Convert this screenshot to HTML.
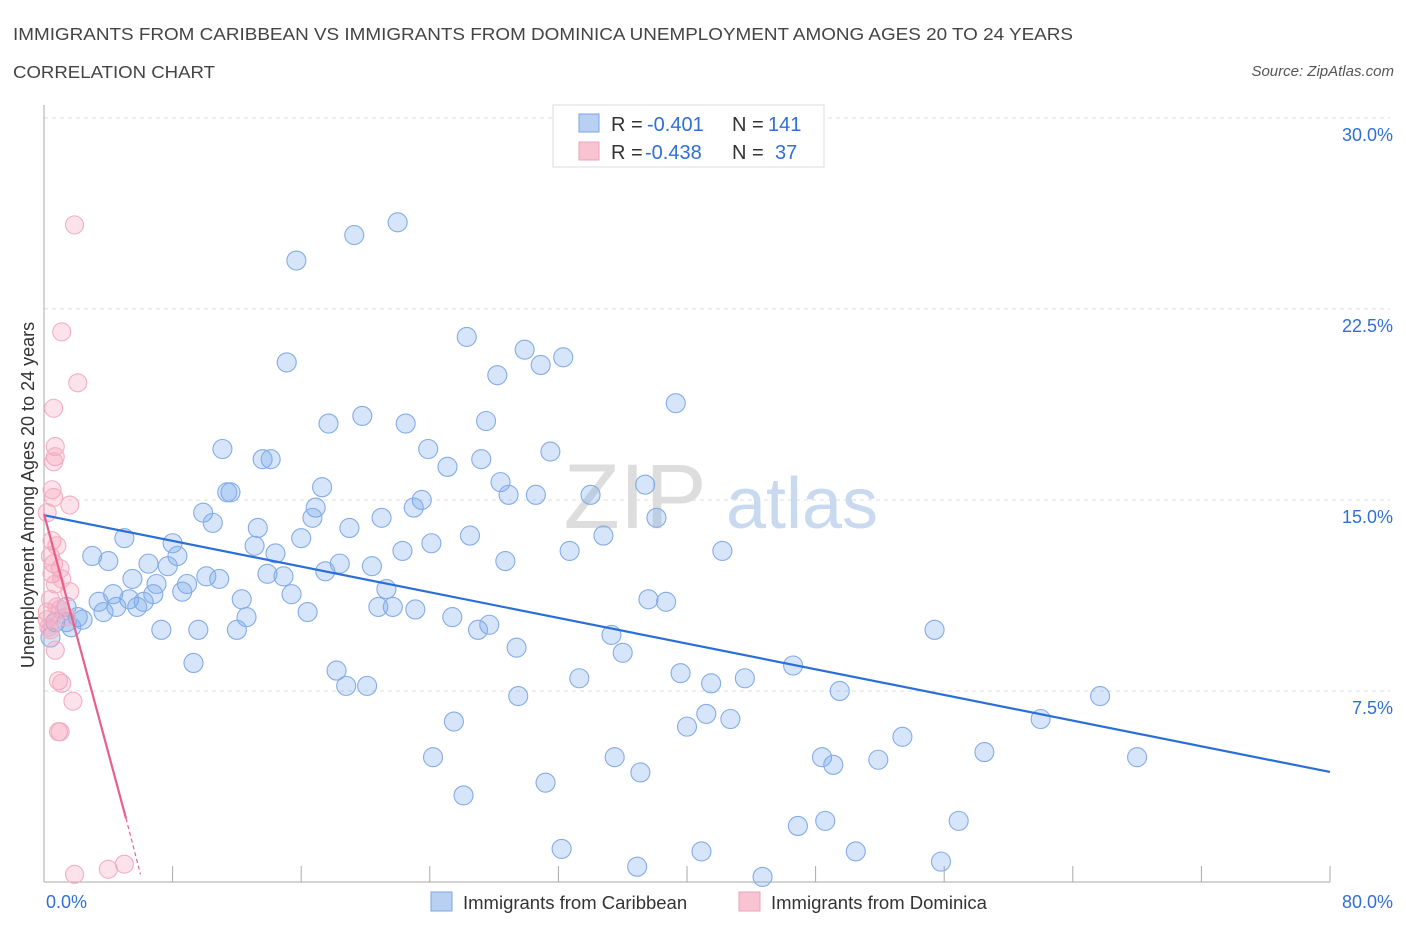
<!DOCTYPE html>
<html><head><meta charset="utf-8"><style>
body{margin:0;background:#fff;font-family:"Liberation Sans",sans-serif;}
svg text{font-family:"Liberation Sans",sans-serif;}
</style></head><body>
<svg width="1406" height="930" xmlns="http://www.w3.org/2000/svg">
<text x="13" y="40" font-size="17.5" fill="#444" textLength="1060" lengthAdjust="spacingAndGlyphs">IMMIGRANTS FROM CARIBBEAN VS IMMIGRANTS FROM DOMINICA UNEMPLOYMENT AMONG AGES 20 TO 24 YEARS</text>
<text x="13" y="78" font-size="17.5" fill="#444" textLength="202" lengthAdjust="spacingAndGlyphs">CORRELATION CHART</text>
<text x="1394" y="76" font-size="15" fill="#555" font-style="italic" text-anchor="end">Source: ZipAtlas.com</text>
<g id="grid"></g>
<g><text x="635" y="528" font-size="92" fill="#ddd" font-family="Liberation Serif" text-anchor="middle">ZIP</text><text x="802" y="528" font-size="72" fill="#c9daf0" text-anchor="middle">atlas</text></g>
<g id="axes"></g>
<g id="pts"></g>
<g id="lines"></g>
<g>
<rect x="553" y="105" width="271" height="62" fill="#fff" stroke="#ddd"/>
<rect x="579" y="114" width="20" height="18" fill="#b8d0f2" stroke="#7aa4e2"/>
<rect x="579" y="142" width="20" height="18" fill="#f8c4d2" stroke="#eea0b8"/>
<g font-size="20">
<text x="611" y="131" fill="#333">R =</text><text x="647" y="131" fill="#2f6fd6">-0.401</text><text x="732" y="131" fill="#333">N =</text><text x="768" y="131" fill="#2f6fd6">141</text></g>
<g font-size="20">
<text x="611" y="159" fill="#333">R =</text><text x="645" y="159" fill="#2f6fd6">-0.438</text><text x="732" y="159" fill="#333">N =</text><text x="775" y="159" fill="#2f6fd6">37</text></g>
</g>
<g>
<rect x="431" y="892" width="21" height="19" fill="#b8d0f2" stroke="#7aa4e2"/>
<text x="463" y="909" font-size="18.5" fill="#333">Immigrants from Caribbean</text>
<rect x="739" y="892" width="21" height="19" fill="#f8c4d2" stroke="#eea0b8"/>
<text x="771" y="909" font-size="18.5" fill="#333">Immigrants from Dominica</text>
</g>
<text x="34" y="495" font-size="18" fill="#333" text-anchor="middle" transform="rotate(-90 34 495)">Unemployment Among Ages 20 to 24 years</text>
</svg>
<script>
const yTicks=[7.5,15,22.5,30];
const yTickLabels=["7.5%","15.0%","22.5%","30.0%"];
const xTickLabels=["0.0%","80.0%"];
const blueX=[22.0,19.3,15.7,15.1,26.3,29.9,30.9,32.3,28.2,39.3,19.8,17.7,22.5,27.5,11.1,23.9,31.5,13.6,14.1,25.1,27.2,28.4,37.4,17.3,11.6,11.4,23.5,28.9,30.6,34.0,9.9,16.9,23.0,16.7,21.0,38.1,10.5,13.3,19.0,26.5,5.0,34.8,16.0,8.0,13.1,24.1,22.3,32.7,42.2,14.4,3.0,8.3,4.0,6.5,7.7,18.4,28.7,20.4,17.5,13.9,14.9,10.1,10.9,5.5,7.0,8.9,21.3,8.6,15.4,4.3,3.4,6.8,12.3,5.3,6.2,37.6,38.7,20.8,16.4,21.7,23.1,4.5,5.8,3.7,1.4,2.1,12.6,25.4,0.7,1.4,2.4,1.7,7.3,12.0,9.6,27.7,27.0,55.4,35.3,29.4,36.0,9.3,18.2,46.6,33.3,39.6,43.6,18.8,20.1,41.5,29.5,49.5,65.7,25.5,41.2,40.0,42.7,62.0,53.4,24.2,35.5,48.4,49.1,51.9,58.5,68.0,37.1,31.2,26.1,46.9,48.6,56.9,32.2,40.9,50.5,36.9,55.8,44.7,0.4];
const blueY=[25.9,25.4,24.4,20.4,21.4,20.9,20.3,20.6,19.9,18.8,18.3,18.0,18.0,18.1,17.0,17.0,16.9,16.6,16.6,16.3,16.6,15.7,15.6,15.5,15.3,15.3,15.0,15.2,15.2,15.2,14.5,14.7,14.7,14.3,14.3,14.3,14.1,13.9,13.9,13.6,13.5,13.6,13.5,13.3,13.2,13.3,13.0,13.0,13.0,12.9,12.8,12.8,12.6,12.5,12.4,12.5,12.6,12.4,12.2,12.1,12.0,12.0,11.9,11.9,11.7,11.7,11.5,11.4,11.3,11.3,11.0,11.3,11.1,11.1,11.0,11.1,11.0,10.8,10.6,10.8,10.7,10.8,10.8,10.6,10.8,10.4,10.4,10.4,10.2,10.2,10.3,10.0,9.9,9.9,9.9,10.1,9.9,9.9,9.7,9.2,9.0,8.6,8.3,8.5,8.0,8.2,8.0,7.7,7.7,7.8,7.3,7.5,7.3,6.3,6.6,6.1,6.4,6.4,5.7,4.9,4.9,4.9,4.6,4.8,5.1,4.9,4.3,3.9,3.4,2.2,2.4,2.4,1.3,1.2,1.2,0.6,0.8,0.2,9.6];
const pinkX=[1.9,1.1,2.1,0.6,0.7,0.7,0.6,0.5,0.6,1.6,0.2,0.5,0.8,0.6,1.0,0.5,0.7,1.6,0.4,1.0,0.2,1.4,0.7,0.9,1.1,1.8,0.9,1.0,1.9,4.0,5.0,0.4,0.2,0.8,0.4,1.1,0.3];
const pinkY=[25.8,21.6,19.6,18.6,17.1,16.7,16.5,15.4,15.1,14.8,14.5,13.4,13.2,12.5,12.3,12.1,11.7,11.4,11.1,10.7,10.6,10.4,9.1,7.9,7.8,7.1,5.9,5.9,0.3,0.5,0.7,9.9,10.3,10.8,12.8,11.9,10.0];
const blueTrend=[[0,14.4],[80,4.32]];
const pinkTrend=[[0,14.45],[5.1,2.5],[6.0,0.3]];
const X=v=>44+v*16.075, Y=v=>882-v*25.47;
const NS="http://www.w3.org/2000/svg";
function mk(p,t,a){const e=document.createElementNS(NS,t);for(const k in a)e.setAttribute(k,a[k]);p.appendChild(e);return e;}
const grid=document.getElementById('grid'),axes=document.getElementById('axes'),pts=document.getElementById('pts'),lines=document.getElementById('lines');
yTicks.forEach((t,i)=>{
 const l=mk(grid,'line',{x1:44,x2:1390,y1:Y(t),y2:Y(t),stroke:'#ddd','stroke-dasharray':'4,4'});
 
 
 const tx=mk(axes,'text',{x:1393,y:Y(t)+23,'font-size':18,fill:'#2f6fd6','text-anchor':'end'});
 tx.textContent=yTickLabels[i];
 
 
});
const ax=mk(axes,'line',{x1:44,x2:1330,y1:882,y2:882,stroke:'#aaa'});


const ay=mk(axes,'line',{x1:44,x2:44,y1:105,y2:882,stroke:'#aaa'});


for(let i=1;i<=10;i++){const t=mk(axes,'line',{x1:X(i*8),x2:X(i*8),y1:866,y2:882,stroke:'#aaa'});
 
 }
[[0,'start',46],[80,'end',1393]].forEach((d,i)=>{const t=mk(axes,'text',{x:d[2],y:908,'font-size':18,fill:'#2f6fd6','text-anchor':d[1]});t.textContent=xTickLabels[i];
 
 });
blueX.forEach((v,i)=>{const c=mk(pts,'circle',{cx:X(v),cy:Y(blueY[i]),r:9.5,fill:'rgba(120,168,235,0.3)',stroke:'#84ace6','stroke-width':1.1});
 
 });
pinkX.forEach((v,i)=>{const c=mk(pts,'circle',{cx:X(v),cy:Y(pinkY[i]),r:9,fill:'rgba(244,160,185,0.3)',stroke:'#f2aec2','stroke-width':1.1});
 
 });
const bl=mk(lines,'line',{x1:X(blueTrend[0][0]),y1:Y(blueTrend[0][1]),x2:X(blueTrend[1][0]),y2:Y(blueTrend[1][1]),stroke:'#2a6fd6','stroke-width':2.2});


const pl=mk(lines,'line',{x1:X(pinkTrend[0][0]),y1:Y(pinkTrend[0][1]),x2:X(pinkTrend[1][0]),y2:Y(pinkTrend[1][1]),stroke:'#e8608a','stroke-width':2.2});


const pd=mk(lines,'line',{x1:X(pinkTrend[1][0]),y1:Y(pinkTrend[1][1]),x2:X(pinkTrend[2][0]),y2:Y(pinkTrend[2][1]),stroke:'#e8608a','stroke-width':1.2,'stroke-dasharray':'4,3'});


</script>
</body></html>
